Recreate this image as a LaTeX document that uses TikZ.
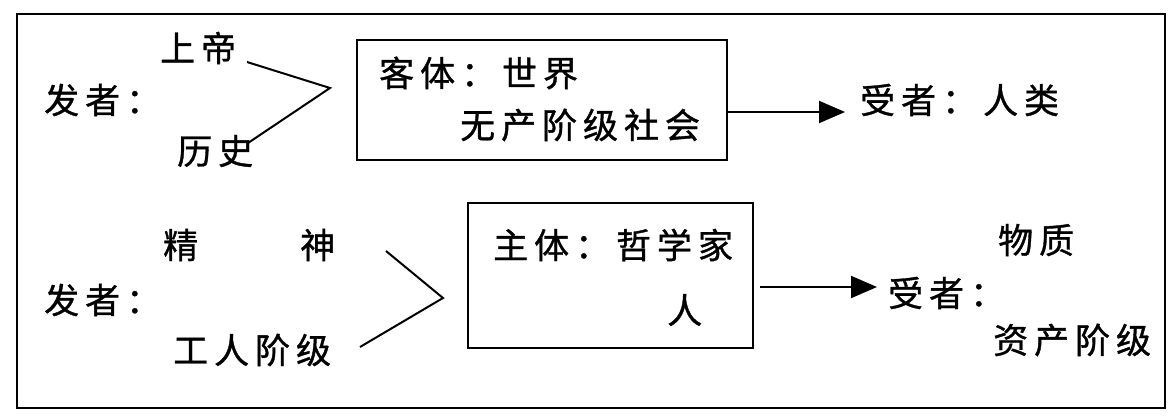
\documentclass[tikz,border=0pt]{standalone}
\usepackage{fontspec}
\newfontfamily\cjk[LetterSpace=17,FakeBold=1]{Noto Sans CJK SC}
\usetikzlibrary{arrows.meta}
\begin{document}
\begin{tikzpicture}[x=1pt,y=-1pt,
  lab/.style={anchor=west,inner sep=0pt,font=\cjk\fontsize{35}{38}\selectfont},
  boxst/.style={draw,line width=2pt,inner sep=0pt},
  conn/.style={line width=2pt,line join=miter},
  arr/.style={line width=2pt,-{Triangle[length=26pt,width=22pt]}}]
\useasboundingbox (0,0) rectangle (1172,420);
% outer frame
\node[boxst,minimum width=1148pt,minimum height=394pt] (outer) at (591,211) {};
% top row
\node[lab] (fa1) at (44,100) {发者：};
\node[lab] (shangdi) at (160,48) {上帝};
\node[lab] (lishi) at (177,151) {历史};
\node[boxst,minimum width=370pt,minimum height=120pt] (topbox) at (542,100) {};
\node[lab] (keti) at (379,73) {客体：世界};
\node[lab] (wuchan) at (460,125) {无产阶级社会};
\node[lab] (shou1) at (860,100) {受者：人类};
\coordinate (v1a) at (247,62);
\coordinate (v1) at (330,88);
\coordinate (v1b) at (248,143);
\draw[conn] (v1a) -- (v1) -- (v1b);
\coordinate (tipA) at (845,112);
\draw[arr] (topbox.east |- tipA) -- (tipA);
% bottom row
\node[lab] (fa2) at (44,300) {发者：};
\node[lab] (jing) at (163,245) {精};
\node[lab] (shen) at (300,245) {神};
\node[lab] (gongren) at (173,350) {工人阶级};
\node[boxst,minimum width=285pt,minimum height=145pt] (botbox) at (610.5,275.5) {};
\node[lab] (zhuti) at (493,245) {主体：哲学家};
\node[lab] (ren) at (667,310) {人};
\node[lab] (wuzhi) at (998,240) {物质};
\node[lab] (shou2) at (888,293) {受者：};
\node[lab] (zichan) at (993,340) {资产阶级};
\coordinate (v2a) at (386,251);
\coordinate (v2) at (443,298);
\coordinate (v2b) at (360,347);
\draw[conn] (v2a) -- (v2) -- (v2b);
\coordinate (tipB) at (877,287);
\draw[arr] ([xshift=6pt]botbox.east |- tipB) -- (tipB);
\end{tikzpicture}
\end{document}
